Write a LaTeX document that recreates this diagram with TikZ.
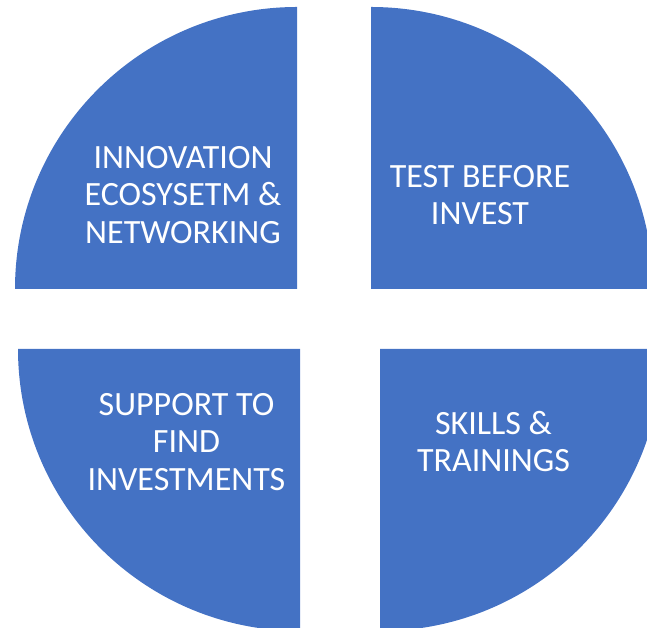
\documentclass[tikz,border=0pt]{standalone}
\usepackage{fontspec}
\setmainfont{Carlito}
\definecolor{quadblue}{HTML}{4472C4}
\tikzset{
  quad/.style={fill=quadblue, draw=none},
  lbl/.style={text=white, align=center, inner sep=0pt, font=\fontsize{34}{37.5}\selectfont}
}
\begin{document}
\begin{tikzpicture}[x=1pt,y=1pt]
\useasboundingbox (0,0) rectangle (647,628);
\clip (0,0) rectangle (647,628);
% top-left
\fill[quad] (297,339) -- (15,339) arc[start angle=180, end angle=90, radius=282pt] -- cycle;
% top-right
\fill[quad] (371,339) -- (371,621) arc[start angle=90, end angle=0, radius=282pt] -- cycle;
% bottom-left
\fill[quad] (300,279) -- (18,279) arc[start angle=180, end angle=270, radius=282pt] -- cycle;
% bottom-right
\fill[quad] (380,279) -- (380,-3) arc[start angle=270, end angle=360, radius=282pt] -- cycle;
\node[lbl] (innov) at (183,433) {INNOVATION\\ECOSYSETM \&\\NETWORKING};
\node[lbl] (test) at (480,433) {TEST BEFORE\\INVEST};
\node[lbl] (support) at (186.5,186) {SUPPORT TO\\FIND\\INVESTMENTS};
\node[lbl] (skills) at (493.5,186.5) {SKILLS \&\\TRAININGS};
\end{tikzpicture}
\end{document}
